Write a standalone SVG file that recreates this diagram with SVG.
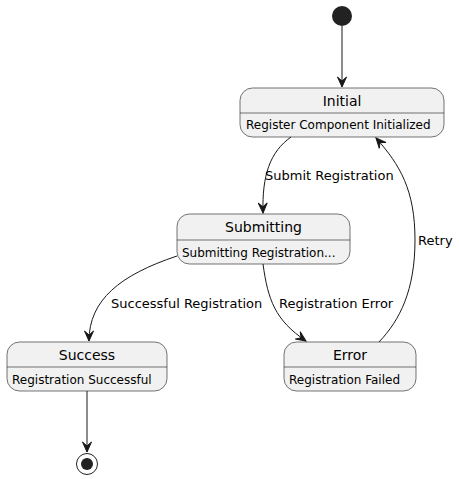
<svg xmlns="http://www.w3.org/2000/svg" width="459" height="479" viewBox="0 0 459 479">
<defs>
<style>
.box{fill:#F1F1F1;stroke:#181818;stroke-width:0.6}
.div{stroke:#181818;stroke-width:0.6}
.title{font-family:"DejaVu Sans",sans-serif;font-size:14px;fill:#000;text-anchor:middle}
.body{font-family:"DejaVu Sans",sans-serif;font-size:12px;fill:#000}
.lbl{font-family:"DejaVu Sans",sans-serif;font-size:13px;fill:#000}
.edge{fill:none;stroke:#181818;stroke-width:1}
</style>
<marker id="arr" viewBox="0 0 12 12" refX="11" refY="6" markerWidth="12" markerHeight="12" markerUnits="userSpaceOnUse" orient="auto">
<path d="M11,6 L1,1.5 L5,6 L1,10.5 Z" fill="#181818" stroke="#181818" stroke-width="1"/>
</marker>
</defs>
<g id="start"><circle cx="342" cy="16" r="10" fill="#222222"/></g>
<g id="Initial">
<rect class="box" x="240" y="88" width="204" height="49" rx="12.5"/>
<line class="div" x1="240" y1="113" x2="444" y2="113"/>
<text class="title" x="342" y="106">Initial</text>
<text class="body" x="246" y="129">Register Component Initialized</text>
</g>
<g id="Submitting">
<rect class="box" x="177" y="214" width="173" height="50" rx="12.5"/>
<line class="div" x1="177" y1="240" x2="350" y2="240"/>
<text class="title" x="263.5" y="232">Submitting</text>
<text class="body" x="182" y="257">Submitting Registration...</text>
</g>
<g id="Success">
<rect class="box" x="7" y="342" width="160" height="49" rx="12.5"/>
<line class="div" x1="7" y1="367" x2="167" y2="367"/>
<text class="title" x="87" y="360">Success</text>
<text class="body" x="12" y="384">Registration Successful</text>
</g>
<g id="Error">
<rect class="box" x="284" y="342" width="132" height="49" rx="12.5"/>
<line class="div" x1="284" y1="367" x2="416" y2="367"/>
<text class="title" x="350" y="360">Error</text>
<text class="body" x="289" y="384">Registration Failed</text>
</g>
<g id="end">
<circle cx="87" cy="464" r="10.5" fill="none" stroke="#222222" stroke-width="1"/>
<circle cx="87" cy="464" r="6" fill="#222222"/>
</g>
<g id="connectors">
<path class="edge" d="M342,26 L342,87" marker-end="url(#arr)"/>
<path class="edge" d="M291,137 C270,152 262,175 263,213" marker-end="url(#arr)"/>
<text class="lbl" x="265" y="180">Submit Registration</text>
<path class="edge" d="M177,256 C120,275 89,300 89,341" marker-end="url(#arr)"/>
<text class="lbl" x="111" y="308">Successful Registration</text>
<path class="edge" d="M263,264 C268,300 275,320 306,341" marker-end="url(#arr)"/>
<text class="lbl" x="279" y="308">Registration Error</text>
<path class="edge" d="M379,342 C400,320 415,290 415,240 C415,190 400,165 376,138" marker-end="url(#arr)"/>
<text class="lbl" x="418" y="245">Retry</text>
<path class="edge" d="M87,391 L87,452" marker-end="url(#arr)"/>
</g>
</svg>
